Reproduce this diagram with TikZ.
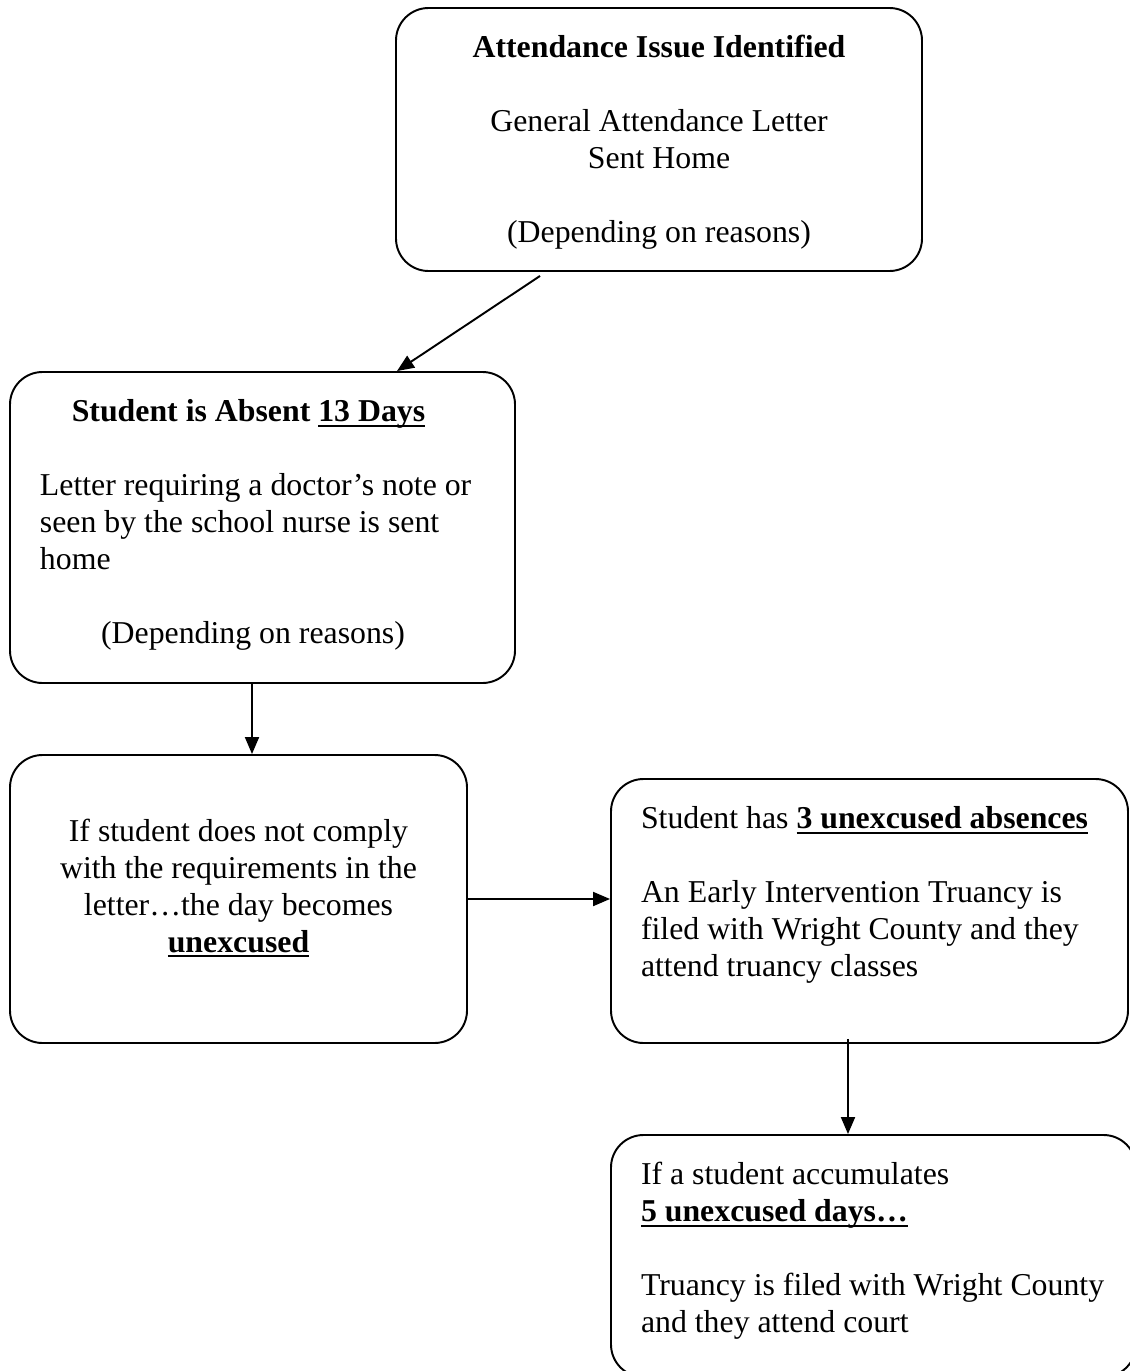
\documentclass[tikz,border=0pt]{standalone}
\usepackage{fontspec}
\setmainfont{Liberation Serif}
\usetikzlibrary{arrows.meta}
\tikzset{
  stepbox/.style={rectangle, draw=black, line width=1.1pt, rounded corners=0.65cm, inner xsep=0.6cm, inner ysep=0.48cm, font=\fontsize{18.1}{21}\selectfont},
  flow/.style={line width=1.1pt, -{Triangle[length=0.34cm, width=0.28cm]}}
}
\newcommand{\boxtext}[3]{\parbox[c][#2][t]{#1}{#3}}
\newsavebox{\ulbox}
\newcommand{\thickul}[1]{\leavevmode\sbox{\ulbox}{#1}\rlap{\rule[-2.8pt]{\wd\ulbox}{1.1pt}}\usebox{\ulbox}}

\begin{document}
\begin{tikzpicture}
      \useasboundingbox (0,0) rectangle (22.6,-27.42);
      \clip (0,0) rectangle (22.6,-27.42);

      \node[stepbox](issue) at (13.18,-2.79){\boxtext{9.32cm}{4.30cm}{\centering\strut\textbf{Attendance Issue Identified}\\[\baselineskip]
        General Attendance Letter\\ Sent Home\\[\baselineskip] (Depending on reasons)}};
      \node[stepbox](absent) at (5.25,-10.55){\boxtext{8.9cm}{5.26cm}{{\centering\hspace*{-0.56cm}\strut\textbf{Student is Absent \thickul{13 Days}}\par}
        \vspace{\baselineskip}
        {\raggedright Letter requiring a doctor's note or\\ seen by the school nurse is sent\\ home\par}
        \vspace{\baselineskip}
        {\centering\hspace*{-0.38cm}(Depending on reasons)\par}}};
      \node[stepbox](comply) at (4.77,-17.98){\boxtext{7.94cm}{4.80cm}{\centering\strut\\
        If student does not comply\\ with the requirements in the\\ letter\ldots the day becomes\\ \thickul{\textbf{unexcused}}}};
      \node[stepbox](three) at (17.39,-18.22){\boxtext{9.14cm}{4.32cm}{\raggedright\strut Student has \textbf{\thickul{3 unexcused absences}}\\[\baselineskip]
        An Early Intervention Truancy is\\ filed with Wright County and they\\ attend truancy classes}};
      \node[stepbox](five) at (17.47,-25.12){\boxtext{9.3cm}{3.88cm}{\raggedright\strut If a student accumulates\\ \textbf{\thickul{5 unexcused days\ldots}}\\[\baselineskip]
        Truancy is filed with Wright County\\ and they attend court}};

      % connectors
      \draw[flow]([xshift=-2.38cm, yshift=-0.08cm]issue.south)--([xshift=2.69cm]absent.north);
      \draw[flow]([xshift=-0.21cm]absent.south)--([xshift=-0.21cm]absent.south |- comply.north);
      \draw[flow](comply.east)--(comply.east -| three.west);
      \draw[flow]([xshift=-0.43cm, yshift=0.1cm]three.south)--([xshift=-0.43cm]three.south |- five.north);
\end{tikzpicture}
\end{document}
